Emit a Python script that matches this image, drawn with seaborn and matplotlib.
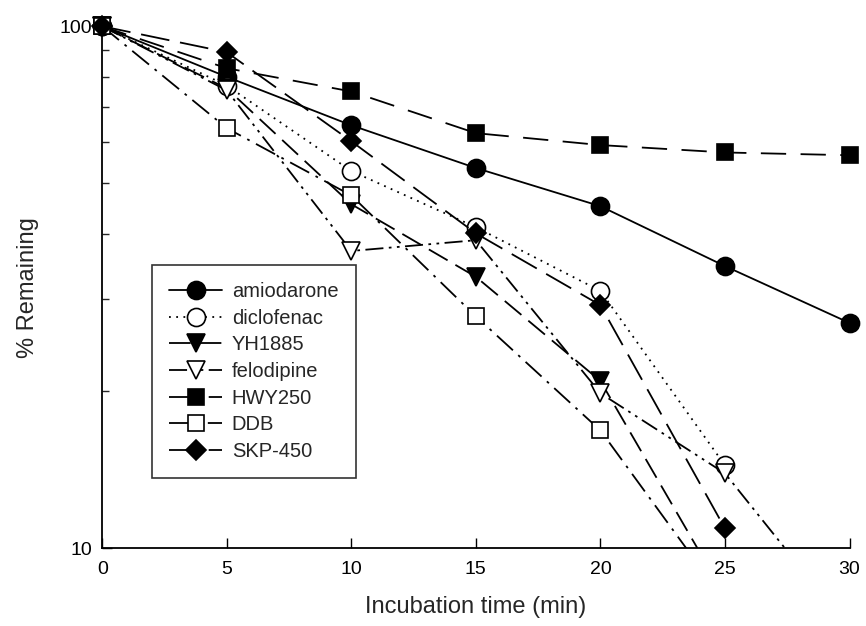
import pandas as pd
import numpy as np
import matplotlib
matplotlib.use("Agg")
import matplotlib.pyplot as plt
import seaborn as sns
from matplotlib.ticker import NullFormatter, FixedLocator
from matplotlib.transforms import Bbox, TransformedBbox

# time points (min)
time = [0, 5, 10, 15, 20, 25, 30]

amiodarone = [100, 80, 64.6, 53.5, 45.2, 34.7, 27.0]
diclofenac = [100, 77, 52.8, 41.2, 31.1, 14.4, None]
yh1885 = [100, 76, 45.6, 33.1, 20.9, 8.1, None]
felodipine = [100, 75.4, 37.1, 38.9, 19.8, 13.9, 7.0]
hwy250 = [100, 83.1, 75.0, 62.4, 59.2, 57.3, 56.6]
ddb = [100, 63.8, 47.4, 27.8, 16.8, 7.9, None]
skp450 = [100, 89.2, 60.2, 40.1, 29.2, 10.9, None]

series = {
    "amiodarone": amiodarone,
    "diclofenac": diclofenac,
    "YH1885": yh1885,
    "felodipine": felodipine,
    "HWY250": hwy250,
    "DDB": ddb,
    "SKP-450": skp450,
}

styles = {
    "amiodarone": dict(marker="o", mfc="k", ls="-", ms=13),
    "diclofenac": dict(marker="o", mfc="white", ls=(0, (1, 3)), ms=13),
    "YH1885": dict(marker="v", mfc="k", ls=(0, (12, 5)), ms=13),
    "felodipine": dict(marker="v", mfc="white", ls=(0, (10, 3, 1.5, 3, 1.5, 3)), ms=13),
    "HWY250": dict(marker="s", mfc="k", ls=(0, (14, 8)), ms=12),
    "DDB": dict(marker="s", mfc="white", ls=(0, (12, 4, 1.5, 4)), ms=12),
    "SKP-450": dict(marker="D", mfc="k", ls=(0, (16, 6)), ms=10),
}

sns.set_style("ticks")
plt.rcParams["font.family"] = ["Liberation Sans", "DejaVu Sans"]

fig = plt.figure(figsize=(8.66, 6.26), dpi=100)
ax = fig.add_axes([0.118, 0.1246, 0.863, 0.8334])

for name, vals in series.items():
    df = pd.DataFrame({"time": time, "remain": vals}).dropna()
    st = styles[name]
    sns.lineplot(data=df, x="time", y="remain", ax=ax, color="k",
                 marker=st["marker"], markersize=st["ms"], markerfacecolor=st["mfc"],
                 markeredgecolor="k", markeredgewidth=1.2, linestyle=st["ls"],
                 linewidth=1.3, label=name, errorbar=None)

# clip at the bottom axis only, let end markers stick out at the right/top
clip = TransformedBbox(Bbox([[-0.05, 0], [1.05, 1.1]]), ax.transAxes)
for ln in ax.lines:
    ln.set_clip_box(clip)

ax.set_yscale("log")
ax.set_xlim(0, 30)
ax.set_ylim(10, 100)
ax.set_xticks([0, 5, 10, 15, 20, 25, 30])
ax.yaxis.set_major_locator(FixedLocator([10, 100]))
ax.set_yticklabels(["10", "100"])
ax.yaxis.set_minor_locator(FixedLocator([20, 30, 40, 50, 60, 70, 80, 90]))
ax.yaxis.set_minor_formatter(NullFormatter())
ax.tick_params(axis="both", which="major", direction="in", length=7, width=1,
               labelsize=14, colors="k")
ax.tick_params(axis="y", which="minor", direction="in", length=5, width=1)
ax.tick_params(axis="x", pad=9)
ax.tick_params(axis="y", pad=7)
for s in ["top", "right"]:
    ax.spines[s].set_visible(False)
for s in ["left", "bottom"]:
    ax.spines[s].set_linewidth(1.3)
    ax.spines[s].set_color("k")

ax.set_xlabel("Incubation time (min)", fontsize=17)
ax.set_ylabel("% Remaining", fontsize=17)
ax.xaxis.set_label_coords(0.5, -0.092)
ax.yaxis.set_label_coords(-0.085, 0.5)

leg = ax.legend(loc="lower left", bbox_to_anchor=(0.067, 0.134), fontsize=14.5,
                frameon=True, fancybox=False, edgecolor="k", handlelength=2.6,
                labelspacing=0.38, borderpad=0.85, handletextpad=0.5,
                borderaxespad=0)
leg.get_frame().set_linewidth(1.2)

fig.savefig("out.png", dpi=100)
